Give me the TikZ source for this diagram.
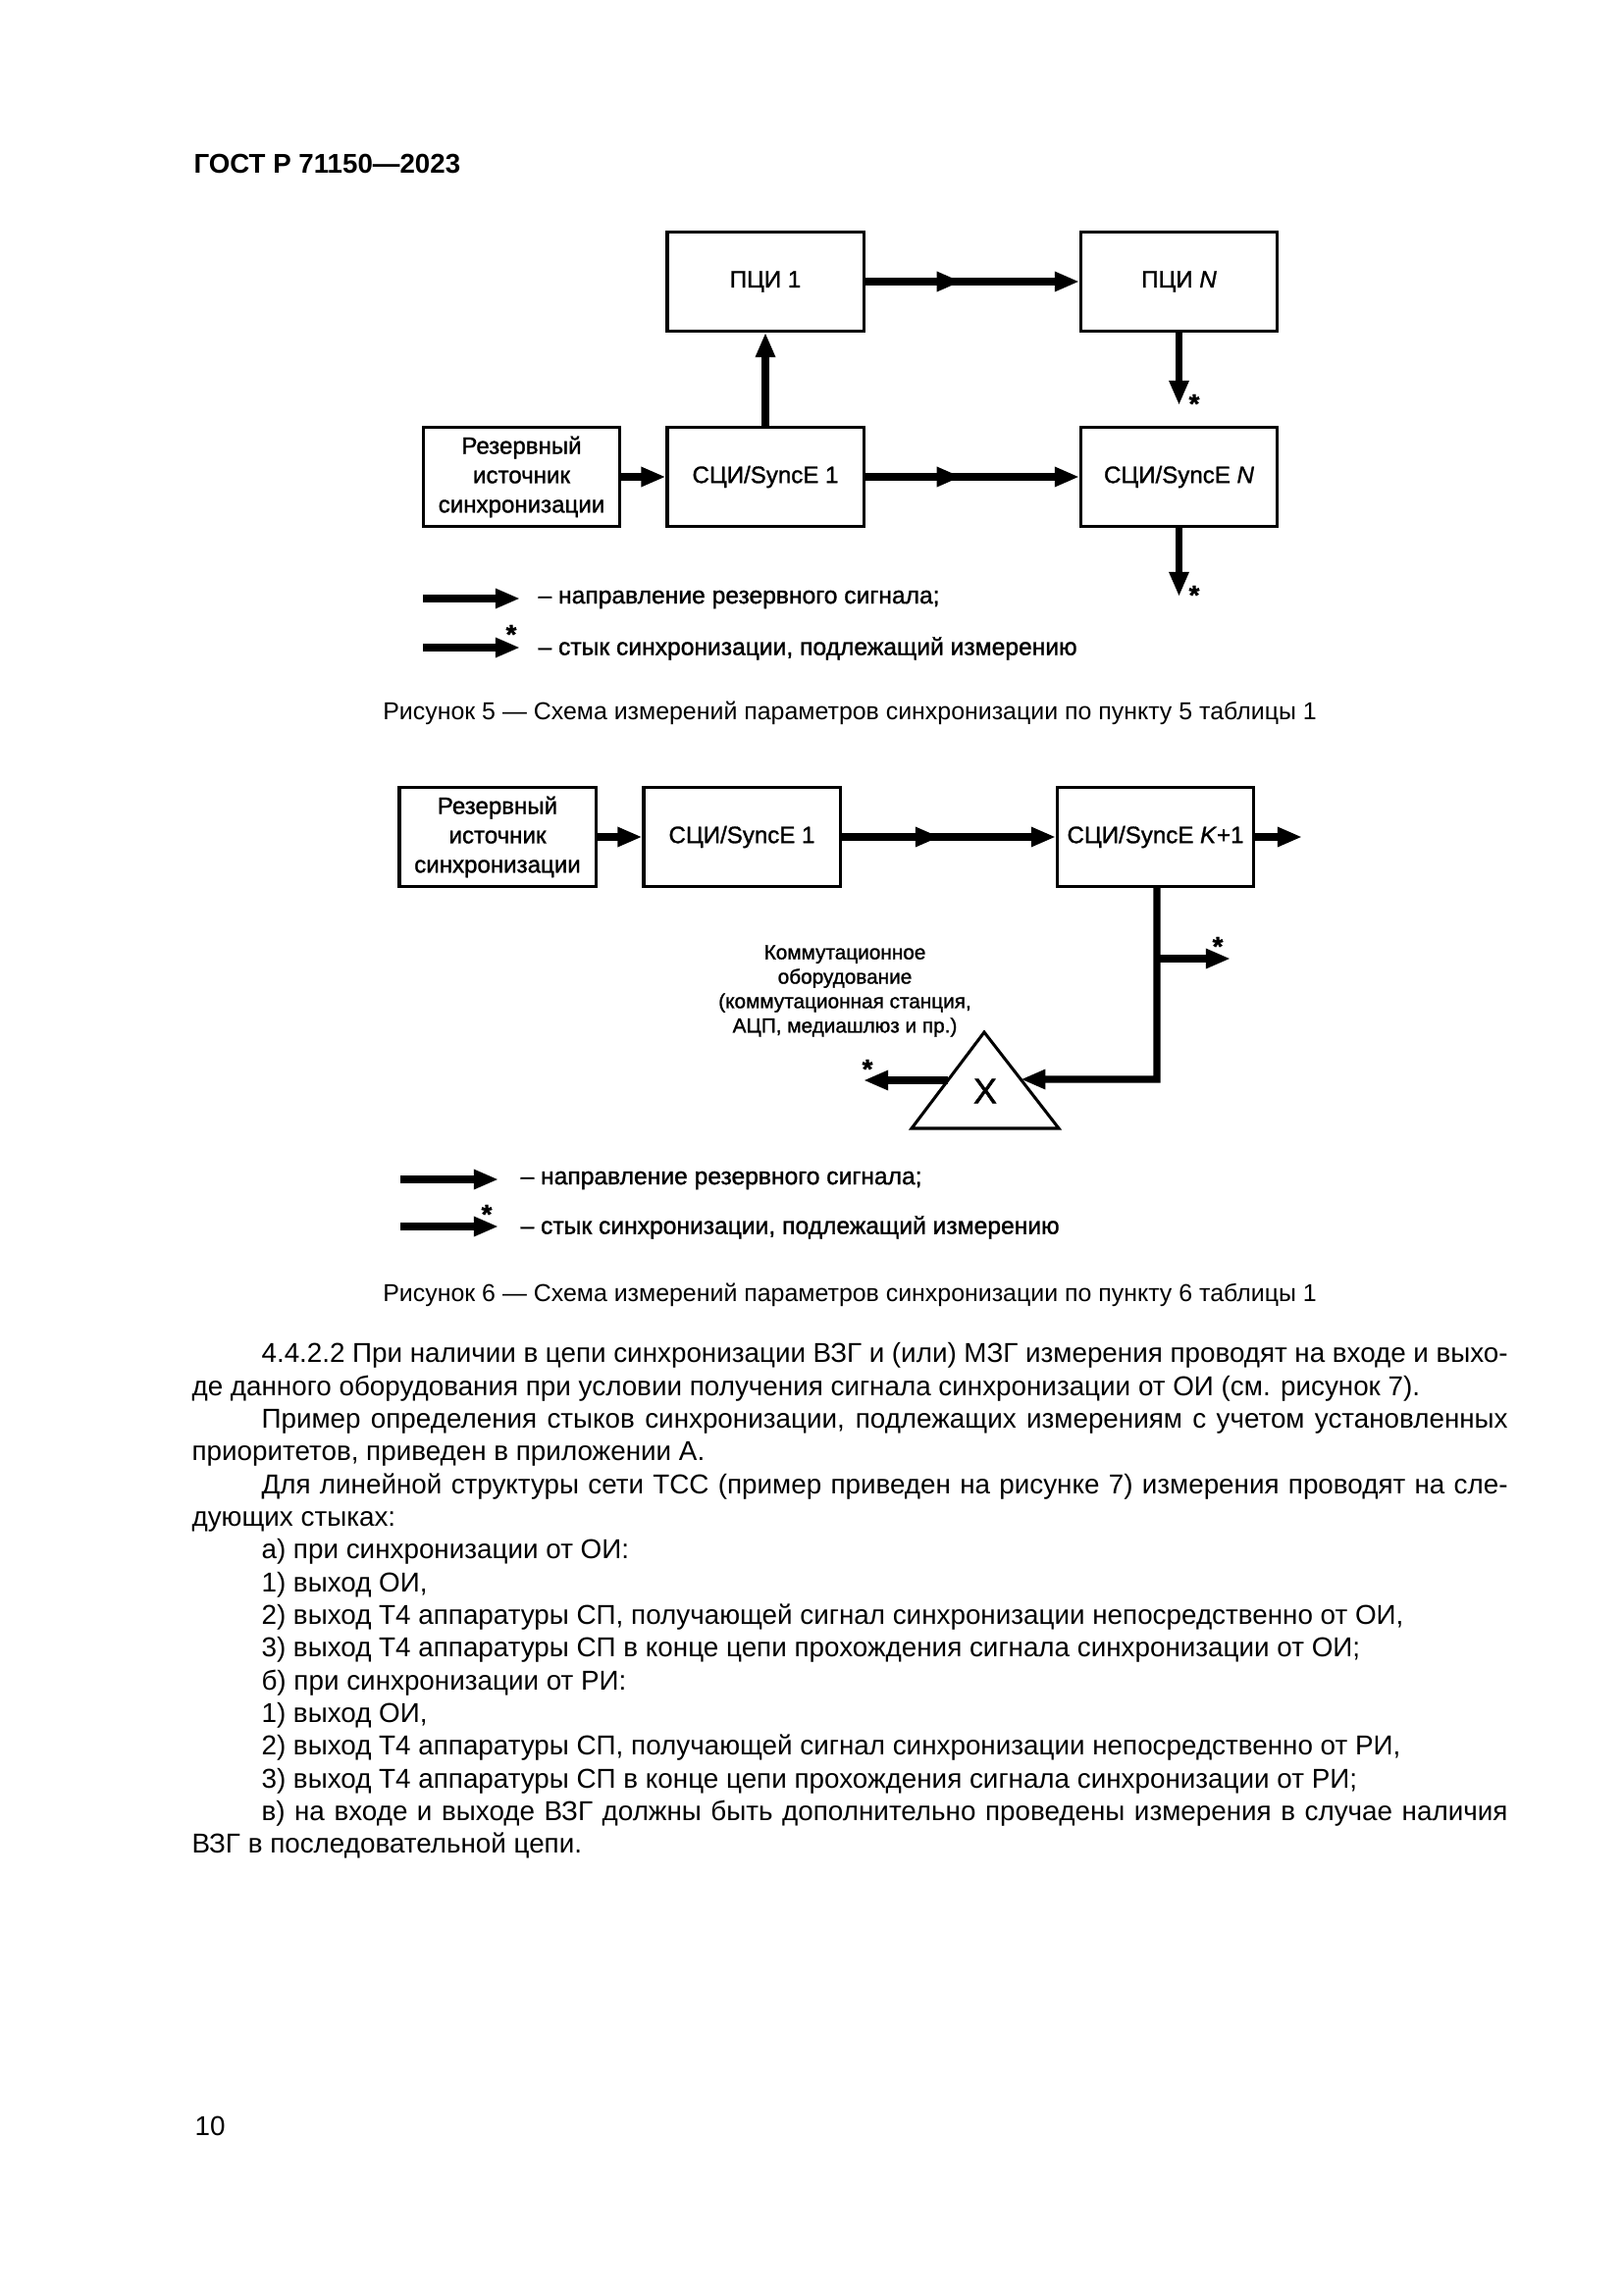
\documentclass[tikz,border=0pt]{standalone}
\usepackage{fontspec}
\setmainfont{Liberation Sans}
\newfontfamily\dfont[FakeBold=1.2]{Liberation Sans}
\usetikzlibrary{arrows.meta,decorations.markings,calc}
\newcommand\jline[1]{\makebox[161.25mm][s]{#1}}
\begin{document}
\begin{tikzpicture}[x=0.126965mm,y=-0.126965mm,
  box/.style={draw, line width=1.1pt, minimum width=25.4mm, minimum height=12.8mm, inner sep=0pt, align=center, font=\dfont\fontsize{8.7}{10.8}\selectfont},
  sig/.style={line width=2.6pt, -{Triangle[length=3.2mm,width=2.4mm]}},
  midarr/.style={postaction={decorate}, decoration={markings, mark=at position #1 with {\arrow{Triangle[length=3.2mm,width=2.4mm]}}}},
  lbl/.style={font=\dfont\fontsize{8.9}{10.8}\selectfont, inner sep=0pt, anchor=west},
  astr/.style={font=\dfont\bfseries\fontsize{10}{10}\selectfont, inner sep=0pt, anchor=base},
  bodytxt/.style={font=\fontsize{10.05}{12}\selectfont, inner sep=0pt, anchor=base west},
  figcap/.style={font=\fontsize{9}{11}\selectfont, inner sep=0pt, anchor=base}]
\fill[white] (0,0) rectangle (1654,2339);
\useasboundingbox (0,0) rectangle (1654,2339);
% header
\node[font=\bfseries\fontsize{10}{12}\selectfont, inner sep=0pt, anchor=base west] (hdr) at (197,176) {ГОСТ Р 71150—2023};
% ---------- Figure 5 ----------
\node[box] (p1) at (780,287) {ПЦИ 1};
\node[box] (pN) at (1201.5,287) {ПЦИ \textit{N}};
\node[box] (r1) at (531.5,486) {Резервный\\источник\\синхронизации};
\node[box] (s1) at (780,486) {СЦИ/SyncE 1};
\node[box] (sN) at (1201.5,486) {СЦИ/SyncE \textit{N}};
\draw[sig, midarr=0.45] (p1.east) -- (pN.west);
\draw[sig] (s1.north) -- (p1.south);
\draw[sig] (r1.east) -- (s1.west);
\draw[sig, midarr=0.45] (s1.east) -- (sN.west);
\coordinate (pNo) at (1201.5,413);
\draw[sig] (pN.south) -- (pNo);
\node[astr] (st1) at (1217,421) {*};
\coordinate (sNo) at (1201.5,608);
\draw[sig] (sN.south) -- (sNo);
\node[astr] (st2) at (1217,616) {*};
% legend 5
\coordinate (l1a) at (431,610); \coordinate (l1b) at (530,610);
\draw[sig] (l1a) -- (l1b);
\node[lbl] (l1t) at (548,611) {– направление резервного сигнала;};
\coordinate (l2a) at (431,660); \coordinate (l2b) at (530,660);
\draw[sig] (l2a) -- (l2b);
\node[astr] (l2s) at (521,656) {*};
\node[lbl] (l2t) at (548,661) {– стык синхронизации, подлежащий измерению};
\node[figcap] (c5) at (866,733) {Рисунок 5 — Схема измерений параметров синхронизации по пункту 5 таблицы 1};
% ---------- Figure 6 ----------
\node[box] (r2) at (507,853) {Резервный\\источник\\синхронизации};
\node[box] (s2) at (756,853) {СЦИ/SyncE 1};
\node[box] (sK) at (1177.5,853) {СЦИ/SyncE \textit{K}+1};
\draw[sig] (r2.east) -- (s2.west);
\draw[sig, midarr=0.46] (s2.east) -- (sK.west);
\coordinate (kout) at (1327,853);
\draw[sig] (sK.east) -- (kout);
\coordinate (tA) at (1003,1052);
\coordinate (tL) at (929,1150);
\coordinate (tR) at (1079,1150);
\draw[line width=1.1pt] (tA) -- (tL) -- (tR) -- cycle;
\node[font=\dfont\fontsize{13}{13}\selectfont, inner sep=0pt] (X) at (1004,1112) {X};
\coordinate (j1) at (1179,977);
\coordinate (j2) at (1179,1100);
\coordinate (tin) at ($(tA)!0.49!(tR)$);
\draw[sig] (sK.south -| j1) -- (j2) -- (tin);
\coordinate (bout) at (1254,977);
\draw[sig] (j1) -- (bout);
\node[astr] (st3) at (1241,974) {*};
\coordinate (tout) at ($(tA)!0.5!(tL)$);
\coordinate (xo) at (880,1101);
\draw[sig] (tout) -- (xo);
\node[astr] (st4) at (884,1099) {*};
\node[font=\dfont\fontsize{7.5}{9}\selectfont, align=center, inner sep=0pt] (kom) at (861,1010) {Коммутационное\\оборудование\\(коммутационная станция,\\АЦП, медиашлюз и пр.)};
% legend 6
\coordinate (m1a) at (408,1202); \coordinate (m1b) at (508,1202);
\draw[sig] (m1a) -- (m1b);
\node[lbl] (m1t) at (530,1203) {– направление резервного сигнала;};
\coordinate (m2a) at (408,1250); \coordinate (m2b) at (508,1250);
\draw[sig] (m2a) -- (m2b);
\node[astr] (m2s) at (496,1247) {*};
\node[lbl] (m2t) at (530,1251) {– стык синхронизации, подлежащий измерению};
\node[figcap] (c6) at (866,1326) {Рисунок 6 — Схема измерений параметров синхронизации по пункту 6 таблицы 1};
% ---------- body text ----------
\node[bodytxt] (b1) at (266,1388.7) {\jline{4.4.2.2 При наличии в цепи синхронизации ВЗГ и (или) МЗГ измерения проводят на входе и выхо-}};
\node[bodytxt] (b2) at (195,1422) {де данного оборудования при условии получения сигнала синхронизации от ОИ (см. рисунок 7).};
\node[bodytxt] (b3) at (266,1455.4) {\jline{Пример определения стыков синхронизации, подлежащих измерениям с учетом установленных}};
\node[bodytxt] (b4) at (195,1488.7) {приоритетов, приведен в приложении А.};
\node[bodytxt] (b5) at (266,1522) {\jline{Для линейной структуры сети ТСС (пример приведен на рисунке 7) измерения проводят на сле-}};
\node[bodytxt] (b6) at (195,1555.4) {дующих стыках:};
\node[bodytxt] (b7) at (266,1588.7) {а) при синхронизации от ОИ:};
\node[bodytxt] (b8) at (266,1622) {1) выход ОИ,};
\node[bodytxt] (b9) at (266,1655.4) {2) выход Т4 аппаратуры СП, получающей сигнал синхронизации непосредственно от ОИ,};
\node[bodytxt] (b10) at (266,1688.7) {3) выход Т4 аппаратуры СП в конце цепи прохождения сигнала синхронизации от ОИ;};
\node[bodytxt] (b11) at (266,1722) {б) при синхронизации от РИ:};
\node[bodytxt] (b12) at (266,1755.4) {1) выход ОИ,};
\node[bodytxt] (b13) at (266,1788.7) {2) выход Т4 аппаратуры СП, получающей сигнал синхронизации непосредственно от РИ,};
\node[bodytxt] (b14) at (266,1822) {3) выход Т4 аппаратуры СП в конце цепи прохождения сигнала синхронизации от РИ;};
\node[bodytxt] (b15) at (266,1855.4) {\jline{в) на входе и выходе ВЗГ должны быть дополнительно проведены измерения в случае наличия}};
\node[bodytxt] (b16) at (195,1888.7) {ВЗГ в последовательной цепи.};
\node[bodytxt] (pg) at (198,2176) {10};
\end{tikzpicture}
\end{document}
